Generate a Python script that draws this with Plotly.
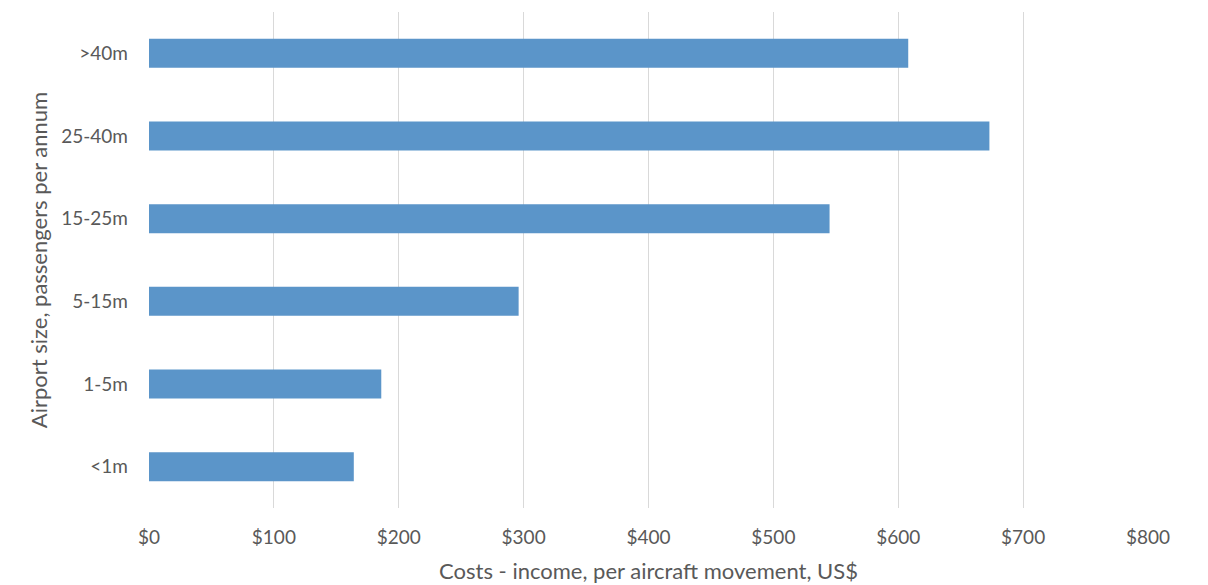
import plotly.graph_objects as go

categories = ["<1m", "1-5m", "5-15m", "15-25m", "25-40m", ">40m"]
values = [164, 186, 296, 545, 673, 608]
tick_vals = [0, 100, 200, 300, 400, 500, 600, 700, 800]
tick_text = ["$0", "$100", "$200", "$300", "$400", "$500", "$600", "$700", "$800"]

font_family = "Lato, Open Sans, sans-serif"
gray = "#595959"

fig = go.Figure(go.Bar(
    y=categories,
    x=values,
    orientation="h",
    marker=dict(color="#5B95C9", line=dict(width=0)),
))

fig.update_layout(
    width=1208, height=585,
    margin=dict(l=141, r=68, t=4, b=85),
    paper_bgcolor="white", plot_bgcolor="white",
    bargap=0.65,
    showlegend=False,
    font=dict(family=font_family, color=gray, size=19),
)
fig.update_xaxes(
    range=[0, 800],
    tickvals=tick_vals, ticktext=tick_text,
    showgrid=True, gridcolor="#D9D9D9", gridwidth=1,
    zeroline=False, showline=False,
    ticks="", ticklabelstandoff=16,
    tickfont=dict(size=19, color=gray, family=font_family),
    title=dict(text="Costs - income, per aircraft movement, US$",
               font=dict(size=22, color=gray, family=font_family), standoff=16),
)
fig.update_yaxes(
    categoryorder="array", categoryarray=categories,
    showgrid=False, zeroline=False, showline=False,
    ticks="", ticklabelstandoff=20,
    tickfont=dict(size=19, color=gray, family=font_family),
    title=dict(text="Airport size, passengers per annum",
               font=dict(size=22, color=gray, family=font_family), standoff=7),
)

fig.write_html("out.html")
